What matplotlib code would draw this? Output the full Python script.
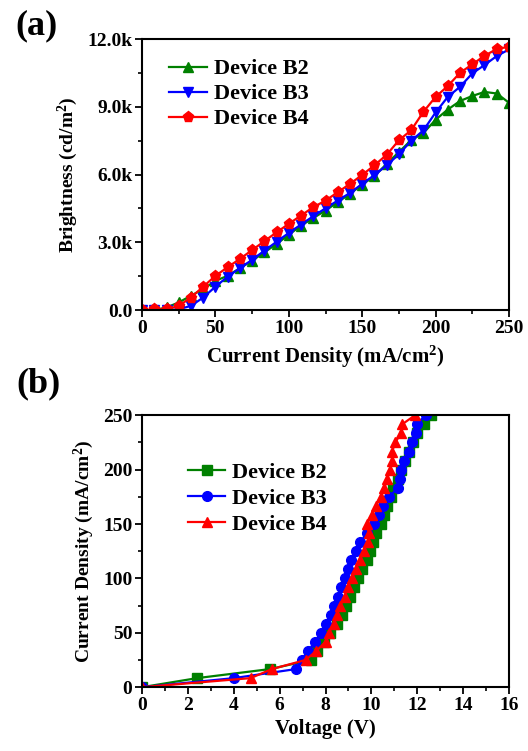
import numpy as np
import matplotlib
matplotlib.use('Agg')
import matplotlib.pyplot as plt
from matplotlib.ticker import MultipleLocator

plt.rcParams['font.family'] = ['Liberation Serif', 'DejaVu Serif']
plt.rcParams['font.weight'] = 'bold'
plt.rcParams['axes.labelweight'] = 'bold'
plt.rcParams['mathtext.fontset'] = 'custom'
plt.rcParams['mathtext.rm'] = 'Liberation Serif:bold'
plt.rcParams['mathtext.bf'] = 'Liberation Serif:bold'
plt.rcParams['mathtext.default'] = 'rm'

# current density steps (mA/cm2), shared by both panels
j = [0, 8.3, 16.7, 25, 33.3, 41.7, 50, 58.3, 66.7, 75, 83.3, 91.7, 100, 108.3, 116.7,
     125, 133.3, 141.7, 150, 158.3, 166.7, 175, 183.3, 191.7, 200, 208.3, 216.7, 225,
     233.3, 241.7, 250]

# (a) brightness, cd/m2
lum_b2 = [0, 0, 120, 340, 640, 930, 1300, 1520, 1860, 2190, 2560, 2930, 3340, 3740, 4080,
          4410, 4780, 5150, 5560, 5930, 6480, 7000, 7520, 7840, 8430, 8880, 9260, 9480,
          9660, 9590, 9180]
lum_b3 = [0, 0, 0, 40, 190, 560, 1040, 1480, 1860, 2230, 2630, 3030, 3420, 3790, 4160,
          4510, 4850, 5190, 5590, 5980, 6410, 6900, 7490, 7960, 8750, 9440, 9890, 10480,
          10850, 11250, 11540]
lum_b4 = [0, 40, 40, 190, 560, 1040, 1520, 1900, 2270, 2660, 3050, 3450, 3820, 4190, 4560,
          4850, 5220, 5590, 5990, 6410, 6880, 7520, 7960, 8780, 9440, 9920, 10510, 10880,
          11260, 11560, 11660]

# (b) voltage, V
v_b2 = [0, 2.4, 5.6, 7.35, 7.65, 7.95, 8.2, 8.5, 8.7, 8.9, 9.05, 9.25, 9.4, 9.6, 9.8,
        9.92, 10.05, 10.2, 10.4, 10.55, 10.7, 10.85, 10.95, 11.15, 11.3, 11.45, 11.65,
        11.8, 12.0, 12.3, 12.6]
v_b3 = [0, 4.0, 6.73, 6.98, 7.23, 7.56, 7.81, 8.0, 8.22, 8.36, 8.55, 8.68, 8.83, 8.97,
        9.12, 9.35, 9.52, 9.8, 10.1, 10.32, 10.51, 10.76, 11.17, 11.23, 11.3, 11.44,
        11.66, 11.78, 11.95, 11.97, 12.36]
v_b4 = [0, 4.73, 5.67, 7.13, 7.6, 8.0, 8.14, 8.36, 8.5, 8.65, 8.83, 8.97, 9.16, 9.31,
        9.5, 9.67, 9.84, 9.89, 9.8, 10.03, 10.2, 10.4, 10.57, 10.69, 10.83, 10.9, 10.9,
        11.05, 11.27, 11.34, 11.9]

lum_ticks = [0, 3000, 6000, 9000, 12000]
lum_labels = ['0.0', '3.0k', '6.0k', '9.0k', '12.0k']
names = ['Device B2', 'Device B3', 'Device B4']
colors = ['#008000', '#0000ff', '#ff0000']

fig = plt.figure(figsize=(5.28, 7.51), dpi=100)
ax1 = fig.add_axes([0.269, 0.587, 0.695, 0.361])
ax2 = fig.add_axes([0.269, 0.085, 0.695, 0.362])


def style(ax):
    for s in ax.spines.values():
        s.set_linewidth(1.5)
    ax.tick_params(which='major', direction='out', length=5, width=1.3, labelsize=14,
                   top=False, right=False, pad=2)
    ax.tick_params(which='minor', direction='out', length=3, width=1.2,
                   top=False, right=False)


ax1.plot(j, lum_b2, '-^', color=colors[0], ms=7, lw=1.6, label=names[0])
ax1.plot(j, lum_b3, '-v', color=colors[1], ms=7, lw=1.6, label=names[1])
ax1.plot(j, lum_b4, '-p', color=colors[2], ms=8, lw=1.6, label=names[2])
ax1.set_xlim(0, 250)
ax1.set_ylim(0, 12000)
ax1.xaxis.set_major_locator(MultipleLocator(50))
ax1.xaxis.set_minor_locator(MultipleLocator(25))
ax1.set_yticks(lum_ticks)
ax1.set_yticklabels(lum_labels)
ax1.yaxis.set_minor_locator(MultipleLocator(1500))
style(ax1)
ax1.set_xlabel('Current Density (mA/cm$^2$)', fontsize=15, labelpad=5)
ax1.set_ylabel('Brightness (cd/m$^2$)', fontsize=14, labelpad=5)
ax1.legend(loc='upper left', bbox_to_anchor=(0.05, 0.96), frameon=False, fontsize=16,
           handlelength=1.7, handletextpad=0.3, labelspacing=0.2, borderaxespad=0)

ax2.plot(v_b2, j, '-s', color=colors[0], ms=6.5, lw=1.6, label=names[0])
ax2.plot(v_b3, j, '-o', color=colors[1], ms=7, lw=1.6, label=names[1])
ax2.plot(v_b4, j, '-^', color=colors[2], ms=7.5, lw=1.6, label=names[2])
ax2.set_xlim(0, 16)
ax2.set_ylim(0, 250)
ax2.xaxis.set_major_locator(MultipleLocator(2))
ax2.xaxis.set_minor_locator(MultipleLocator(1))
ax2.yaxis.set_major_locator(MultipleLocator(50))
ax2.yaxis.set_minor_locator(MultipleLocator(25))
style(ax2)
ax2.set_xlabel('Voltage (V)', fontsize=15, labelpad=4)
ax2.set_ylabel('Current Density (mA/cm$^2$)', fontsize=14, labelpad=5)
ax2.legend(loc='upper left', bbox_to_anchor=(0.1, 0.86), frameon=False, fontsize=16,
           handlelength=1.7, handletextpad=0.3, labelspacing=0.25, borderaxespad=0)

fig.text(0.07, 0.965, '(a)', fontsize=26, fontweight='bold', ha='center', va='center')
fig.text(0.072, 0.489, '(b)', fontsize=26, fontweight='bold', ha='center', va='center')

fig.savefig('out.png', dpi=100)
